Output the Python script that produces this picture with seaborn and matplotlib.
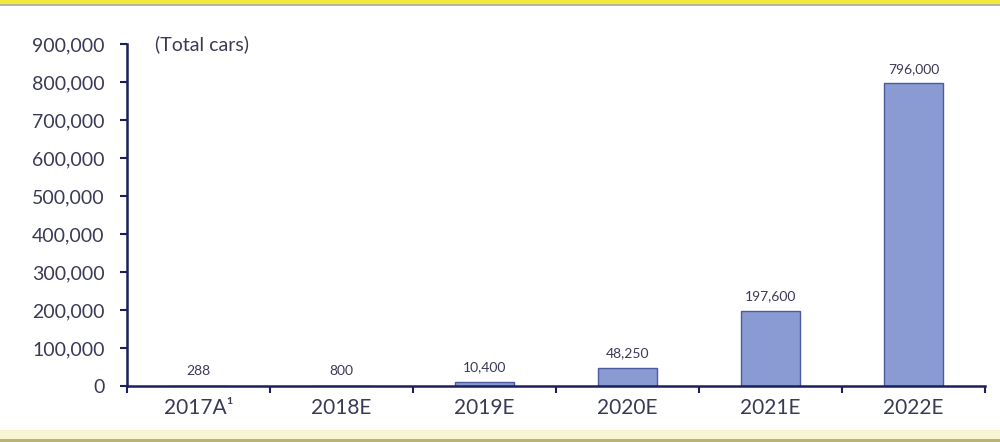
import matplotlib
matplotlib.use("Agg")
import matplotlib.pyplot as plt
import seaborn as sns
import pandas as pd
from matplotlib.patches import Rectangle
from matplotlib.ticker import FuncFormatter, FixedLocator

categories = ["2017A\u00b9", "2018E", "2019E", "2020E", "2021E", "2022E"]
values = [288, 800, 10400, 48250, 197600, 796000]
yticks = [0, 100000, 200000, 300000, 400000, 500000, 600000, 700000, 800000, 900000]
unit_label = "(Total cars)"

df = pd.DataFrame({"year": categories, "cars": values})

sns.set_theme(style="white")
plt.rcParams["font.family"] = ["Lato", "DejaVu Sans"]

navy = "#1c1f5c"
text_col = "#3a3a56"
bar_col = "#8a9bd4"
edge_col = "#4b5a9e"

fig = plt.figure(figsize=(10, 4.42), dpi=100)
fig.patch.set_facecolor("white")
ax = fig.add_axes([0.127, 0.127, 0.858, 0.7735])

sns.barplot(data=df, x="year", y="cars", color=bar_col, width=0.41,
            edgecolor=edge_col, linewidth=1.0, saturation=1, ax=ax)

ax.set_ylim(0, 900000)
ax.set_xlim(-0.5, len(categories) - 0.5)
ax.set_yticks(yticks)
ax.yaxis.set_major_formatter(FuncFormatter(lambda v, p: f"{int(v):,}"))
ax.set_xlabel("")
ax.set_ylabel("")

# x ticks at category boundaries, labels centered via minor ticks
ax.xaxis.set_major_locator(FixedLocator([i + 0.5 for i in range(-1, len(categories))]))
ax.xaxis.set_major_formatter(FuncFormatter(lambda v, p: ""))
ax.xaxis.set_minor_locator(FixedLocator(list(range(len(categories)))))
ax.set_xticklabels(categories, minor=True)
ax.tick_params(axis="x", which="major", direction="out", length=5, width=1.5, color=navy, bottom=True)
ax.tick_params(axis="x", which="minor", length=0, pad=9, labelsize=15, labelcolor=text_col)
ax.tick_params(axis="y", direction="out", length=5, width=1.5, color=navy, left=True,
               labelsize=14, labelcolor=text_col, pad=11)

for s in ["top", "right"]:
    ax.spines[s].set_visible(False)
for s in ["left", "bottom"]:
    ax.spines[s].set_color(navy)
    ax.spines[s].set_linewidth(1.8)

for i, v in enumerate(values):
    ax.annotate(f"{v:,}", xy=(i, v), xytext=(0, 6), textcoords="offset points",
                ha="center", va="bottom", fontsize=10, color=text_col)

ax.text(0.033, 1.0, unit_label, transform=ax.transAxes, ha="left", va="center",
        fontsize=14, color=text_col)

# decorative frame bands
fig.patches.append(Rectangle((0, 1 - 4 / 442), 1, 4 / 442, transform=fig.transFigure,
                             facecolor="#f2e93a", edgecolor="none", zorder=0))
fig.patches.append(Rectangle((0, 1 - 6 / 442), 1, 2 / 442, transform=fig.transFigure,
                             facecolor="#b5b5a0", edgecolor="none", zorder=0))
fig.patches.append(Rectangle((0, 2 / 442), 1, 10 / 442, transform=fig.transFigure,
                             facecolor="#f8f6d2", edgecolor="none", zorder=0))
fig.patches.append(Rectangle((0, 0), 1, 3 / 442, transform=fig.transFigure,
                             facecolor="#b9b470", edgecolor="none", zorder=0))

fig.savefig("out.png", dpi=100, facecolor="white")
